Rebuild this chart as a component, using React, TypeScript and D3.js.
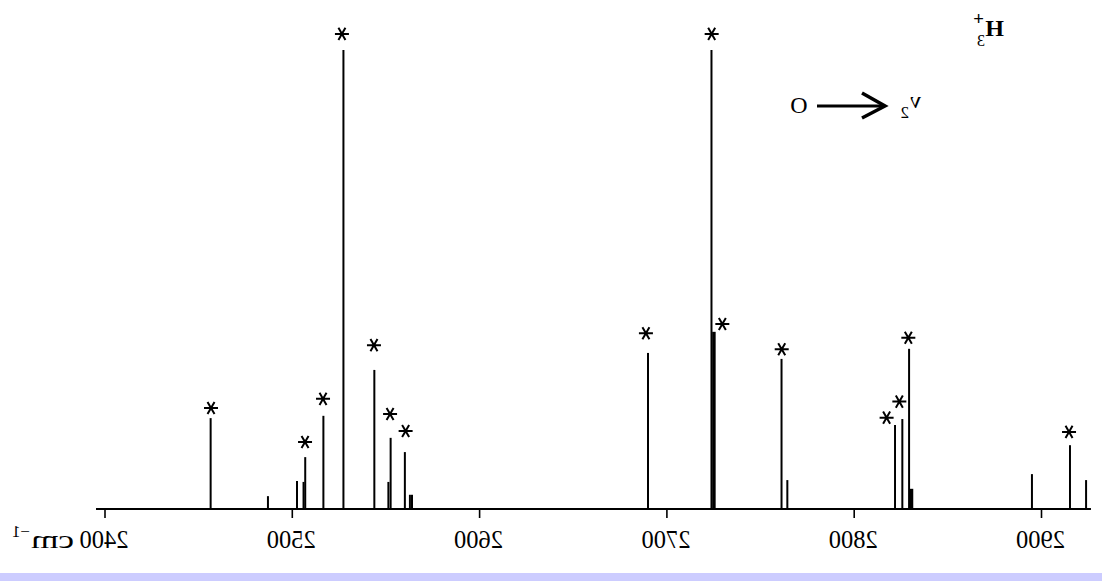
import React from 'react';
import * as d3 from 'd3';

// wavenumber (cm-1) of each line
const lineWavenumbers = [
  2456.4, 2487.0, 2502.5, 2506.0, 2506.9, 2516.6, 2527.3, 2543.8, 2551.3, 2552.5,
  2560.1, 2562.8, 2563.9, 2689.9, 2723.8, 2761.2, 2764.3, 2821.8, 2825.7, 2829.3,
  2894.9, 2915.2, 2923.8,
];
// relative intensity (tallest = 100)
const lineIntensities = [
  19.8, 2.8, 6.1, 5.9, 11.3, 20.3, 100, 30.3, 5.9, 15.5,
  12.4, 3.1, 3.1, 34.0, 100, 32.7, 6.3, 18.3, 19.6, 34.9,
  7.6, 13.9, 6.3,
];

// broadened (blended) features
const broadWavenumbers = [2725.1, 2830.6];
const broadIntensities = [38.6, 4.4];

// asterisk markers: assigned H3+ transitions
const starWavenumbers = [
  2456.6, 2506.8, 2516.4, 2526.5, 2543.6, 2552.2, 2560.5, 2688.8,
  2723.9, 2729.6, 2761.3, 2817.3, 2824.1, 2828.9, 2914.7,
];
const starLevels = [
  22.0, 14.6, 24.0, 103.5, 35.7, 20.7, 17.0, 38.3,
  103.5, 40.3, 34.8, 19.9, 23.4, 37.3, 16.8,
];

const tickValues = [2400, 2500, 2600, 2700, 2800, 2900];
const axisExtent = [2395.2, 2926.4];

const W = 1102;
const H = 581;
const FONT = '"Liberation Serif", "DejaVu Serif", serif';

const x = d3.scaleLinear().domain([2400, 2900]).range([105, 1041.5]);
const y = d3.scaleLinear().domain([0, 100]).range([509, 50]);

// six-armed asterisk
const starPath = (r: number) =>
  d3
    .range(3)
    .map(i => {
      const a = (i * Math.PI) / 3;
      const dx = Math.cos(a) * r;
      const dy = Math.sin(a) * r;
      return `M${-dx},${-dy}L${dx},${dy}`;
    })
    .join('');

const App: React.FC = () => {
  const base = y(0);
  const star = starPath(7);

  return (
    <svg
      width={W}
      height={H}
      style={{ position: 'absolute', left: 0, top: 0, background: '#fff' }}
      fontFamily={FONT}
    >
      {/* baseline */}
      <line
        x1={x(axisExtent[0])}
        x2={x(axisExtent[1])}
        y1={base}
        y2={base}
        stroke="#000"
        strokeWidth={2.2}
      />

      {/* ticks + mirrored labels */}
      {tickValues.map(t => (
        <g key={t}>
          <line x1={x(t)} x2={x(t)} y1={base} y2={base + 9} stroke="#000" strokeWidth={1.6} />
          <g transform={`translate(${x(t)},0) scale(-1,1)`}>
            <text x={1} y={548} textAnchor="middle" fontSize={24.5}>
              {t}
            </text>
            {t === 2400 && (
              <text x={31} y={548} fontSize={25} textLength={43} lengthAdjust="spacingAndGlyphs">
                cm
              </text>
            )}
            {t === 2400 && (
              <text x={75} y={537} fontSize={17}>
                −1
              </text>
            )}
          </g>
        </g>
      ))}

      {/* sharp lines */}
      {lineWavenumbers.map((w, i) => (
        <line
          key={`l${i}`}
          x1={x(w)}
          x2={x(w)}
          y1={base}
          y2={y(lineIntensities[i])}
          stroke="#000"
          strokeWidth={2}
        />
      ))}

      {/* broad features */}
      {broadWavenumbers.map((w, i) => (
        <line
          key={`b${i}`}
          x1={x(w)}
          x2={x(w)}
          y1={base}
          y2={y(broadIntensities[i])}
          stroke="#000"
          strokeWidth={3.5}
        />
      ))}

      {/* asterisks */}
      {starWavenumbers.map((w, i) => (
        <path
          key={`s${i}`}
          d={star}
          transform={`translate(${x(w)},${y(starLevels[i])})`}
          stroke="#000"
          strokeWidth={2}
          fill="none"
        />
      ))}

      {/* H3+ label, mirrored */}
      <g transform="translate(1004,36) scale(-1,1)">
        <text x={0} y={0} fontSize={24} fontWeight="bold">H</text>
        <text x={19} y={10} fontSize={16}>3</text>
        <text x={20} y={-11} fontSize={19} fontWeight="bold">+</text>
      </g>

      {/* 0 -> nu2 */}
      <text x={799} y={113} textAnchor="middle" fontSize={24}>O</text>
      <line x1={817} x2={884} y1={106} y2={106} stroke="#000" strokeWidth={3} />
      <path d="M862,93L885,106L862,118" fill="none" stroke="#000" strokeWidth={3.5} strokeLinejoin="miter" />
      <g transform="translate(921,108) scale(-1,1)">
        <text x={0} y={0} fontSize={24}>ν</text>
        <text x={12} y={10} fontSize={17}>2</text>
      </g>

      {/* bottom band */}
      <rect x={0} y={573} width={W} height={H - 573} fill="#ccccff" />
    </svg>
  );
};

export default App;
